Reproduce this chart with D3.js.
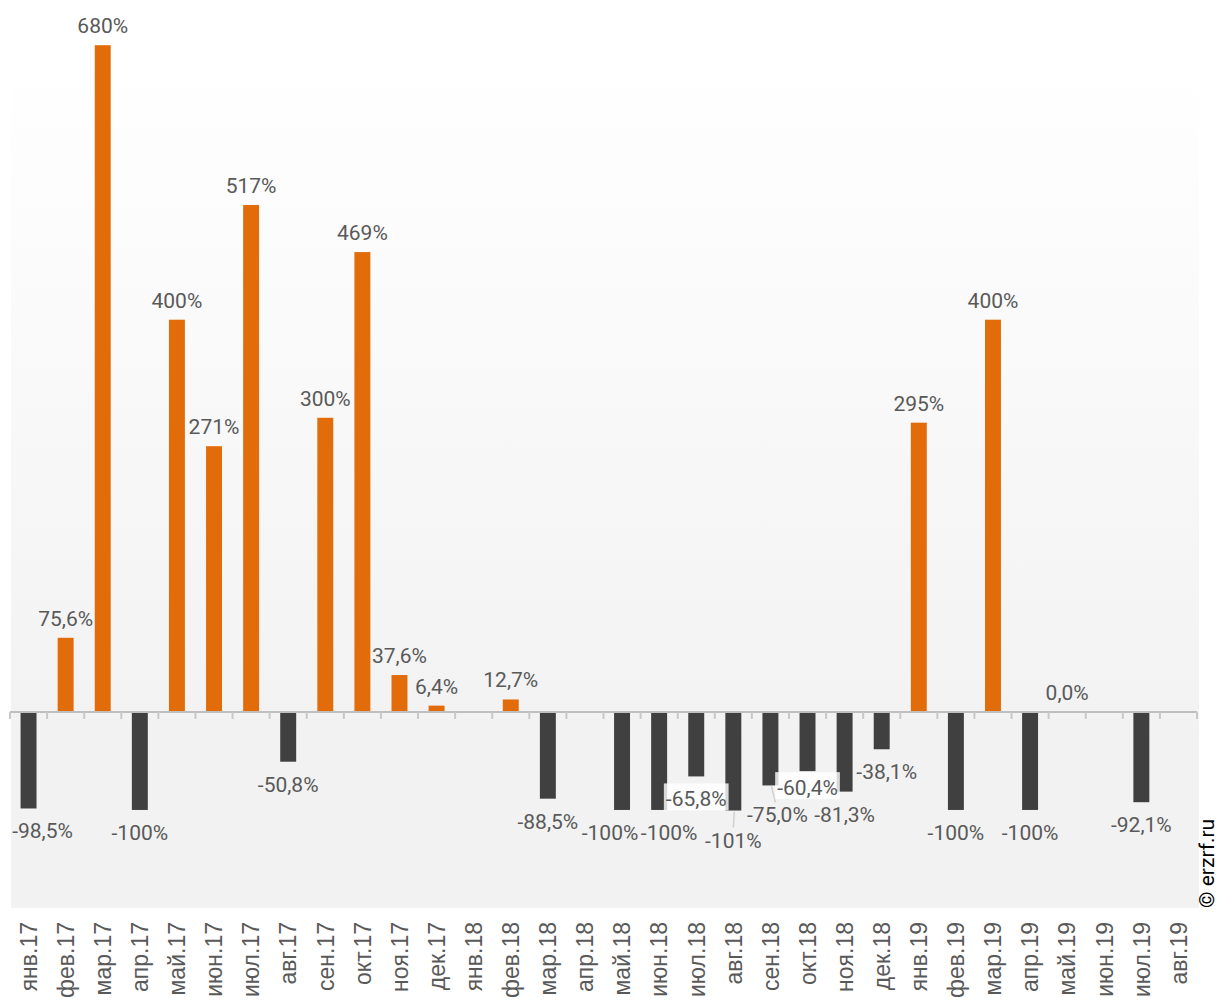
<!DOCTYPE html>
<html>
<head>
<meta charset="utf-8">
<script src="https://cdn.jsdelivr.net/npm/d3@7/dist/d3.min.js"></script>
<style>
  body { margin: 0; background: #fff; }
  svg { display: block; }
</style>
</head>
<body>
<svg id="chart"></svg>
<script>
// months on the x axis
const months = ["янв.17", "фев.17", "мар.17", "апр.17", "май.17", "июн.17", "июл.17", "авг.17",
  "сен.17", "окт.17", "ноя.17", "дек.17", "янв.18", "фев.18", "мар.18", "апр.18",
  "май.18", "июн.18", "июл.18", "авг.18", "сен.18", "окт.18", "ноя.18", "дек.18",
  "янв.19", "фев.19", "мар.19", "апр.19", "май.19", "июн.19", "июл.19", "авг.19"];
// change, % (null = no bar)
const changes = [-98.5, 75.6, 680, -100, 400, 271, 517, -50.8,
  300, 469, 37.6, 6.4, null, 12.7, -88.5, null,
  -100, -100, -65.8, -100.6, -75.0, -60.4, -81.3, -38.1,
  295, -100, 400, -100, 0.0, null, -92.1, null];

const width = 1220, height = 1003;
const plotLeft = 10, plotRight = 1197, plotTop = 55, plotBottom = 908;
const font = "Roboto, 'Liberation Sans', Arial, sans-serif";

// hand nudges for overlapping labels (like in the original)
const labelNudge = {
  "янв.17": {dx: 14},
  "май.18": {dx: -12},
  "июн.18": {dx: 10},
  "июл.18": {box: true},
  "авг.18": {dy: 7, leader: true},
  "сен.18": {dx: 7, dy: 7, leader: true},
  "окт.18": {dy: -6, box: true},
  "дек.18": {dx: 5}
};

const data = months.map((m, i) => ({month: m, value: changes[i]}));

let svg = d3.select('#chart')
  .attr('width', width)
  .attr('height', height);

let xScale = d3.scaleBand()
  .domain(months)
  .range([plotLeft, plotRight])
  .padding(0);
let yScale = d3.scaleLinear()
  .domain([-200, 670])
  .range([plotBottom, plotTop]);

// background of the plot area
let defs = svg.append('defs');
let grad = defs.append('linearGradient')
  .attr('id', 'bg')
  .attr('x1', 0).attr('y1', 0).attr('x2', 0).attr('y2', 1);
grad.append('stop').attr('offset', '0%').attr('stop-color', '#ffffff');
grad.append('stop').attr('offset', '80%').attr('stop-color', '#f2f2f2');
grad.append('stop').attr('offset', '100%').attr('stop-color', '#f2f2f2');

svg.append('rect')
  .attr('x', plotLeft + 1)
  .attr('y', plotTop)
  .attr('width', plotRight - plotLeft + 1)
  .attr('height', plotBottom - plotTop)
  .attr('fill', 'url(#bg)');

const barW = xScale.bandwidth() * 0.43;
// plain hyphen as minus, comma as decimal mark
const ru = d3.formatLocale({decimal: ",", thousands: " ", grouping: [3], currency: ["", ""], minus: "-"});
const fmt = v => (Math.abs(v) >= 100 ? ru.format('.0f')(v) : ru.format('.1f')(v)) + '%';

let bars = data.filter(d => d.value !== null);

svg.append('g')
  .selectAll('rect')
  .data(bars)
  .enter().append('rect')
  .attr('x', d => xScale(d.month) + xScale.bandwidth() / 2 - barW / 2)
  .attr('y', d => yScale(Math.max(0, d.value)))
  .attr('width', barW)
  .attr('height', d => Math.abs(yScale(d.value) - yScale(0)))
  .attr('fill', d => d.value >= 0 ? '#e36c0a' : '#404040');

// axis line + ticks at category boundaries
let axis = svg.append('g').attr('transform', `translate(0,${yScale(0)})`);
axis.append('line')
  .attr('x1', plotLeft).attr('x2', plotRight)
  .attr('stroke', '#bfbfbf').attr('stroke-width', 2);
axis.selectAll('.tick')
  .data(months.concat(['end']))
  .enter().append('line')
  .attr('x1', (d, i) => plotLeft + i * xScale.step())
  .attr('x2', (d, i) => plotLeft + i * xScale.step())
  .attr('y1', 0).attr('y2', 7)
  .attr('stroke', '#c8c8c8').attr('stroke-width', 2);

// month labels
svg.append('g')
  .selectAll('text')
  .data(months)
  .enter().append('text')
  .attr('transform', d => `translate(${xScale(d) + xScale.bandwidth() / 2},922) rotate(-90)`)
  .attr('text-anchor', 'end')
  .attr('dy', '0.36em')
  .style('font-family', "'Liberation Sans', Arial, sans-serif")
  .style('font-size', '23px')
  .style('fill', '#595959')
  .text(d => d);

// value labels
let labels = svg.append('g');
bars.forEach(d => {
  let n = labelNudge[d.month] || {};
  let cx = xScale(d.month) + xScale.bandwidth() / 2;
  let end = yScale(d.value);
  let baseY = d.value >= 0 ? end - 12 : end + 30;
  let lx = cx + (n.dx || 0);
  let ly = baseY + (n.dy || 0);
  if (n.leader) {
    labels.append('line')
      .attr('x1', cx + 1).attr('y1', end + 1)
      .attr('x2', lx - (n.dx ? 2 : 0)).attr('y2', ly - 20)
      .attr('stroke', '#d0d0d0').attr('stroke-width', 1.5);
  }
  let t = labels.append('text')
    .attr('x', lx)
    .attr('y', ly)
    .attr('text-anchor', 'middle')
    .style('font-family', font)
    .style('font-size', '21px')
    .style('fill', '#595959')
    .text(fmt(d.value));
  if (n.box) {
    let bb = t.node().getBBox();
    labels.insert('rect', () => t.node())
      .attr('x', bb.x - 2).attr('y', ly - 23)
      .attr('width', bb.width + 4).attr('height', 27)
      .attr('fill', '#ffffff').attr('fill-opacity', 0.8);
  }
});

// watermark
svg.append('text')
  .attr('transform', 'translate(1214,908) rotate(-90)')
  .attr('text-anchor', 'start')
  .style('font-family', font)
  .style('font-size', '21px')
  .style('fill', '#000')
  .text('© erzrf.ru');
</script>
</body>
</html>
